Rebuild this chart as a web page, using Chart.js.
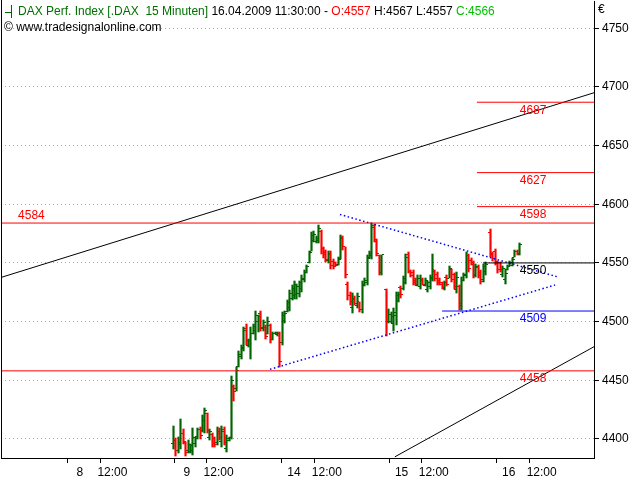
<!DOCTYPE html>
<html>
<head>
<meta charset="utf-8">
<script src="https://cdn.jsdelivr.net/npm/chart.js@4.4.0/dist/chart.umd.min.js"></script>
<style>
  html, body { margin: 0; padding: 0; background: #fff; }
</style>
</head>
<body>
<canvas id="chart" width="640" height="480"></canvas>
<script>
// 15 minute bars, one slot per bar, null = no bar
const opens = [
  4396,4399,4390,4395,4405,4397,4390,4389,4390,4396,4402,4408,4407,4416,4422,4401,4404,4400,4397,4406,
  4398,4408,4392,4399,4401,4445,4443,4462,4470,4477,4494,4480,4484,4490,4492,4500,4507,4494,4495,4490,
  4497,4485,4490,4489,4490,4482,4501,4509,4512,4520,4522,4523,4524,4528,4536,4542,4550,4560,4569,4568,
  4569,4577,4562,4559,4552,4558,4551,4550,4549,4554,4572,4564,4532,4522,4512,4520,4514,4517,4510,4531,
  4533,4555,4556,4582,4568,4556,4542,null,4527,4500,4500,4498,4505,4518,4529,4528,4533,4557,4543,4542,
  4535,4531,4530,4535,4531,4527,4530,4537,4544,4540,4535,4533,4528,4538,4537,4544,4540,4527,4530,4514,
  4535,4539,4556,4552,4550,4540,4546,4542,4536,4543,null,4576,4558,4560,4551,4550,4540,4536,4544,4547,
  4548,4555,4560,4557
];
const highs = [
  4411,4401,4402,4417,4408,4397,4399,4396,4409,4402,4409,4410,4420,4426,4422,4408,4405,4402,4410,4409,
  4411,4410,4403,4402,4454,4446,4461,4475,4480,4495,4498,4485,4495,4498,4509,4506,4509,4501,4497,4504,
  4498,4491,4491,4491,4491,4508,4509,4518,4527,4531,4535,4532,4535,4540,4544,4548,4560,4576,4577,4573,
  4582,4578,4564,4561,4560,4560,4553,4551,4555,4574,4573,4564,4534,4525,4524,4522,4524,4517,4535,4537,
  4557,4560,4584,4583,4570,4557,4557,null,4528,4511,4508,4512,4525,4525,4530,4539,4558,4559,4544,4544,
  4537,4540,4540,4537,4537,4535,4540,4558,4544,4542,4537,4534,4535,4540,4547,4545,4541,4542,4531,4538,
  4541,4559,4558,4554,4552,4549,4548,4544,4549,4551,null,4579,4559,4562,4552,4551,4547,4545,4548,4552,
  4554,4561,4561,4567
];
const lows = [
  4391,4385,4388,4391,4396,4385,4388,4388,4386,4393,4400,4400,4406,4405,4405,4399,4393,4393,4395,4399,
  4393,4395,4389,4398,4400,4432,4441,4461,4468,4475,4480,4478,4468,4489,4484,4491,4492,4492,4485,4489,
  4482,4484,4489,4488,4461,4480,4499,4508,4509,4518,4519,4519,4521,4525,4534,4541,4550,4560,4568,4567,
  4567,4558,4554,4551,4550,4545,4545,4547,4548,4553,4561,4537,4518,4514,4507,4514,4512,4508,4507,4530,
  4531,4554,4553,4568,4556,4540,4540,null,4488,4499,4499,4492,4497,4517,4520,4527,4532,4541,4538,4531,
  4531,4530,4528,4531,4530,4525,4528,4535,4535,4531,4531,4528,4527,4530,4537,4534,4528,4524,4510,4510,
  4535,4537,4542,4548,4537,4538,4537,4532,4534,4540,null,4555,4552,4548,4541,4542,4538,4532,4544,4547,
  4547,4555,4557,4557
];
const closes = [
  4399,4390,4397,4405,4398,4388,4395,4394,4401,4400,4408,4403,4416,4424,4407,4406,4396,4395,4405,4401,
  4406,4397,4400,4401,4450,4440,4458,4472,4478,4492,4484,4484,4490,4496,4505,4504,4495,4499,4487,4500,
  4485,4490,4491,4490,4466,4505,4507,4516,4524,4528,4532,4530,4533,4537,4542,4547,4559,4573,4574,4571,
  4579,4562,4557,4553,4557,4548,4547,4548,4553,4571,4564,4540,4522,4517,4519,4515,4521,4510,4532,4535,
  4554,4558,4580,4570,4558,4542,4557,null,4500,4506,4504,4508,4522,4523,4523,4537,4555,4543,4539,4533,
  4532,4537,4536,4532,4535,4533,4538,4543,4537,4533,4532,4529,4533,4532,4545,4536,4530,4538,4515,4535,
  4540,4556,4545,4549,4539,4547,4539,4534,4547,4549,null,4557,4554,4550,4544,4544,4545,4541,4547,4550,
  4553,4560,4558,4566
];

// x axis: slot positions of the day / 12:00 marks
const tickSlots = [-43.4, -30, 0.8, 13.9, 45, 58.6, 89.5, 102.8, 133.8, 147.4];
const tickLabels = ['8', '12:00', '9', '12:00', '14', '12:00', '15', '12:00', '16', '12:00'];

// drawn levels
const fullLevels = [4584, 4458];        // red, whole width
const targetLevels = [4687, 4627, 4598]; // red, right side
const pivotLevel = 4550;                 // black
const supportLevel = 4509;               // blue
const targetFrom = 125.6, pivotFrom = 128.1, supportFrom = 111.2;

// trend lines as [slot, value] pairs
const upperTrend = [[-71.1, 4537.6], [174, 4695.1]];
const lowerTrend = [[91.7, 4384.7], [174, 4478.6]];
const triangleTop = [[69, 4591.3], [159.1, 4538]];
const triangleBottom = [[40.1, 4459.3], [157.9, 4531.2]];

const X_MIN = -71.07, X_MAX = 173.97;
const UP = '#006400', DOWN = '#ff0000';
const FONT = '12px "Liberation Sans", Arial, sans-serif';

Chart.defaults.font.family = '"Liberation Sans", Arial, sans-serif';
Chart.defaults.font.size = 12;
Chart.defaults.color = '#000';

// open tick sits left of the bar, close tick right of it
function tickImage(color, side) {
  const c = document.createElement('canvas');
  c.width = 5; c.height = 1;
  const g = c.getContext('2d');
  g.fillStyle = color;
  g.fillRect(side === 'left' ? 0 : 3, 0, 2, 1);
  return c;
}
const openUp = tickImage(UP, 'left'), openDown = tickImage(DOWN, 'left');
const closeUp = tickImage(UP, 'right'), closeDown = tickImage(DOWN, 'right');

const idx = opens.map((o, i) => i).filter(i => opens[i] !== null);
const isUp = i => closes[i] >= opens[i];

function seg(points, color, dash, width) {
  return {
    type: 'line', order: 0,
    data: points.map(p => ({x: p[0], y: p[1]})),
    borderColor: color, borderWidth: width || 1, borderDash: dash || [],
    pointRadius: 0, fill: false, tension: 0
  };
}

const lineSets = [];
fullLevels.forEach(v => lineSets.push(seg([[X_MIN, v], [X_MAX, v]], DOWN)));
targetLevels.forEach(v => lineSets.push(seg([[targetFrom, v], [X_MAX, v]], DOWN)));
lineSets.push(seg([[pivotFrom, pivotLevel], [X_MAX, pivotLevel]], '#000'));
lineSets.push(seg([[supportFrom, supportLevel], [X_MAX, supportLevel]], '#0000ff'));
lineSets.push(seg(upperTrend, '#000'));
lineSets.push(seg(lowerTrend, '#000'));
lineSets.push(seg(triangleTop, '#0000ff', [1.5, 2.5], 1.5));
lineSets.push(seg(triangleBottom, '#0000ff', [1.5, 2.5], 1.5));

// labels next to the level lines
const levelLabels = [
  {value: fullLevels[0], at: -58.5, dy: -7, color: DOWN},
  {value: fullLevels[1], at: 148.8, dy: 8, color: DOWN},
  ...targetLevels.map(v => ({value: v, at: 148.8, dy: 8, color: DOWN})),
  {value: pivotLevel, at: 148.8, dy: 8, color: '#000'},
  {value: supportLevel, at: 148.8, dy: 8, color: '#0000ff'}
];

const last = opens.length - 1;

// snap the OHLC marks to whole pixels so they stay sharp
const snap = {
  id: 'snap',
  beforeDatasetsDraw(chart) {
    chart.data.datasets.forEach((ds, di) => {
      if (!ds.ohlc) return;
      chart.getDatasetMeta(di).data.forEach(el => {
        el.x = Math.round(el.x) + 0.5;
        if (ds.type === 'bar') {
          el.y = Math.round(el.y);
          el.base = Math.round(el.base);
        } else {
          el.y = Math.floor(el.y) + 0.5;
        }
      });
    });
  }
};

const overlay = {
  id: 'overlay',
  afterDraw(chart) {
    const {ctx, chartArea: a, scales: {x, y}} = chart;
    ctx.save();
    ctx.strokeStyle = '#000';
    ctx.lineWidth = 1;
    ctx.beginPath();
    ctx.moveTo(a.left + 0.5, a.bottom);
    ctx.lineTo(a.left + 0.5, 0);
    ctx.stroke();

    ctx.font = FONT;
    ctx.textBaseline = 'middle';
    ctx.textAlign = 'center';
    levelLabels.forEach(l => {
      ctx.fillStyle = l.color;
      ctx.fillText(String(l.value), x.getPixelForValue(l.at), y.getPixelForValue(l.value) + l.dy);
    });

    // header
    ctx.strokeStyle = UP;
    ctx.beginPath();
    ctx.moveTo(11.5, 5); ctx.lineTo(11.5, 18);
    ctx.moveTo(5, 12.5); ctx.lineTo(12, 12.5);
    ctx.stroke();
    ctx.textAlign = 'left';
    const parts = [
      ['DAX Perf. Index [.DAX  15 Minuten]', '#007000'],
      [' 16.04.2009 11:30:00', '#000'],
      [' - ', '#000'],
      ['O:' + opens[last], '#ff0000'],
      [' H:' + highs[last] + ' L:' + lows[last] + ' ', '#000'],
      ['C:' + closes[last], '#00c000']
    ];
    let px = 18;
    parts.forEach(p => {
      ctx.fillStyle = p[1];
      ctx.fillText(p[0], px, 12);
      px += ctx.measureText(p[0]).width;
    });
    ctx.fillStyle = '#000';
    ctx.fillText('\u00a9 www.tradesignalonline.com', 4, 28);
    ctx.fillText('\u20ac', 598, 10);
    ctx.restore();
  }
};

new Chart(document.getElementById('chart'), {
  type: 'scatter',
  data: {
    datasets: [
      ...lineSets,
      {
        type: 'bar', order: 1, ohlc: true,
        data: idx.map(i => ({x: i, y: [lows[i], highs[i]]})),
        backgroundColor: idx.map(i => isUp(i) ? UP : DOWN),
        borderWidth: 0, barThickness: 1.5
      },
      {
        order: 1, ohlc: true,
        data: idx.map(i => ({x: i, y: opens[i]})),
        pointStyle: idx.map(i => isUp(i) ? openUp : openDown),
        pointRadius: 2
      },
      {
        order: 1, ohlc: true,
        data: idx.map(i => ({x: i, y: closes[i]})),
        pointStyle: idx.map(i => isUp(i) ? closeUp : closeDown),
        pointRadius: 2
      }
    ]
  },
  options: {
    responsive: false,
    animation: false,
    events: [],
    layout: {autoPadding: false, padding: {left: 1, top: 1, right: 0, bottom: 0}},
    plugins: {legend: {display: false}, tooltip: {enabled: false}},
    scales: {
      x: {
        type: 'linear', min: X_MIN, max: X_MAX, offset: false,
        afterFit: s => { s.height = 22; s.paddingLeft = 0; s.paddingRight = 0; },
        afterBuildTicks: s => { s.ticks = tickSlots.map(v => ({value: v})); },
        ticks: {
          autoSkip: false, maxRotation: 0, labelOffset: 12, padding: 2,
          callback: (v, i) => tickLabels[i]
        },
        grid: {offset: false, drawOnChartArea: false, tickLength: 5, tickColor: '#000'},
        border: {color: '#000', width: 1}
      },
      y: {
        type: 'linear', position: 'right', min: 4383.7, max: 4773.3, beginAtZero: false,
        afterFit: s => { s.width = 46; s.paddingTop = 0; s.paddingBottom = 0; },
        ticks: {stepSize: 50, includeBounds: false, padding: 3, callback: v => v},
        grid: {color: '#a8a8a8', tickColor: '#000', tickLength: 5},
        border: {color: '#000', width: 1, dash: [1, 3]}
      }
    }
  },
  plugins: [snap, overlay]
});
</script>
</body>
</html>
